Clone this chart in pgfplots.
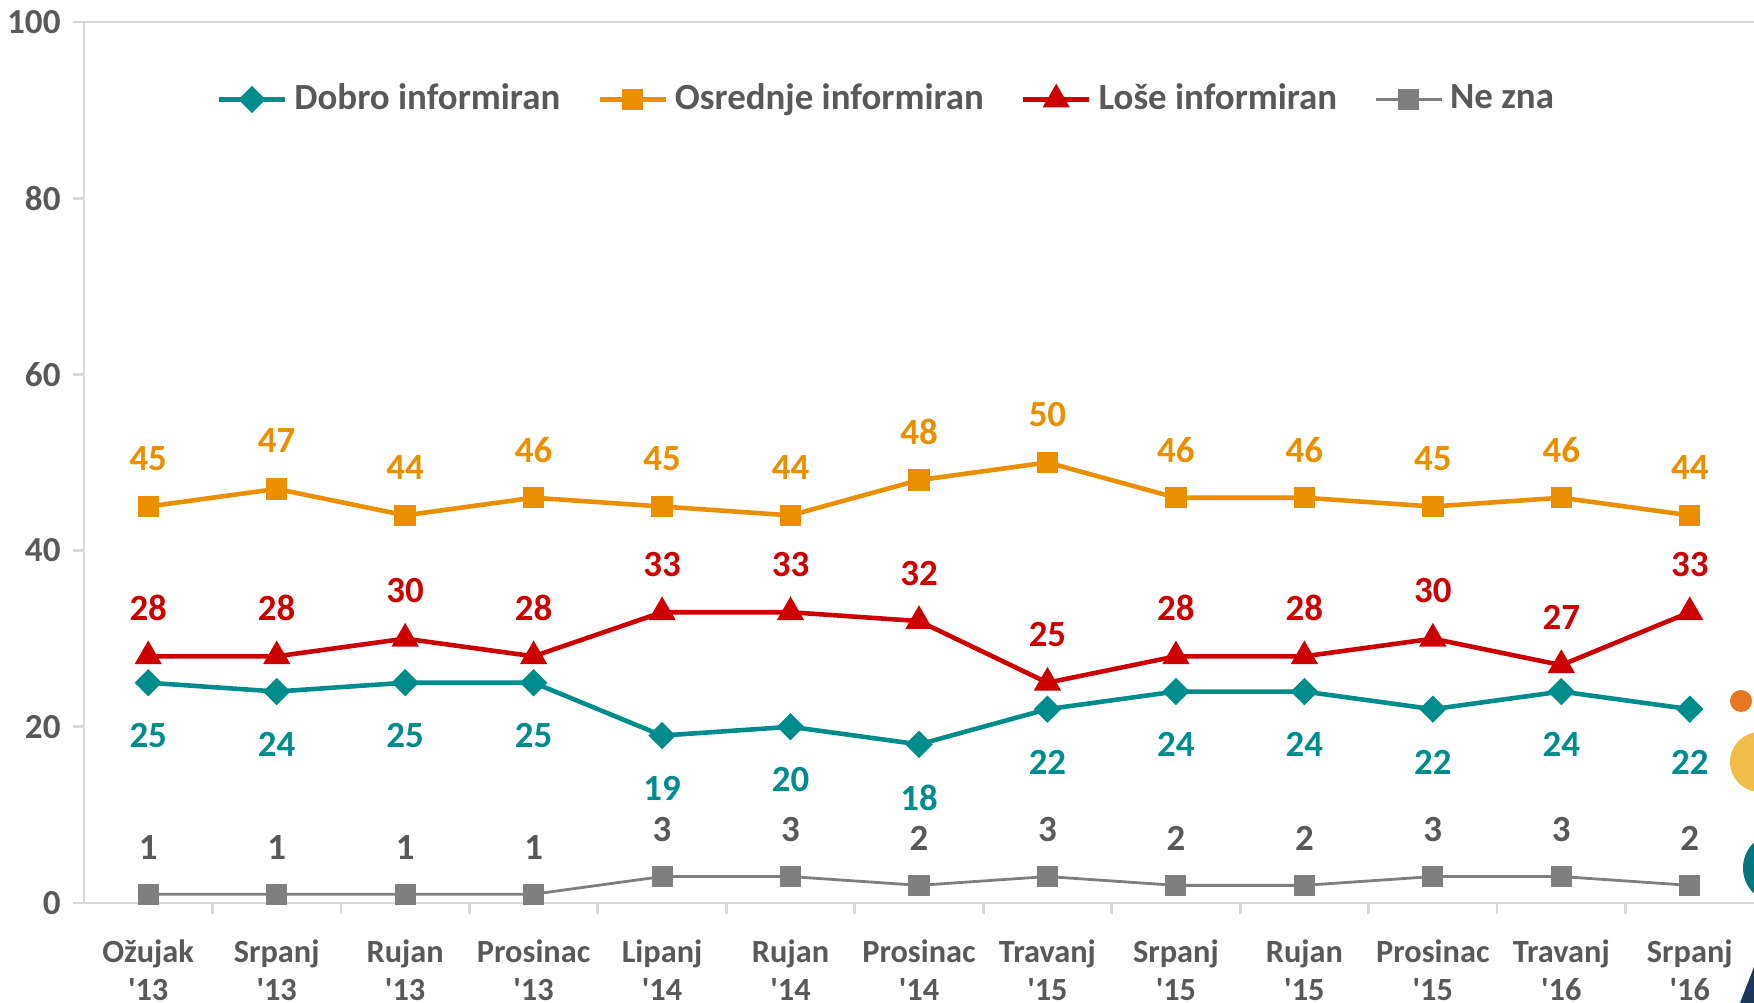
\documentclass[border=0pt]{standalone}
\usepackage{fontspec}
\setmainfont{Carlito}
\usepackage{pgfplots}
\pgfplotsset{compat=1.18}

\definecolor{dobro}{RGB}{0,140,140}
\definecolor{osred}{RGB}{233,143,0}
\definecolor{lose}{RGB}{204,0,0}
\definecolor{nezna}{RGB}{127,127,127}
\definecolor{txt}{RGB}{89,89,89}
\definecolor{axgray}{RGB}{217,217,217}
\definecolor{decoorange}{RGB}{232,119,34}
\definecolor{decoyellow}{RGB}{240,190,72}
\definecolor{decoteal}{RGB}{0,118,128}
\definecolor{deconavy}{RGB}{28,55,90}

\begin{document}
\begin{tikzpicture}
\path[use as bounding box] (-0.84cm,-1.00cm) rectangle (16.70cm,9.03cm);
\begin{axis}[
    at={(0,0)}, anchor=south west,
    width=16.70cm, height=8.81cm,
    scale only axis,
    xmin=-0.5, xmax=12.5,
    ymin=0, ymax=100,
    axis lines=left,
    axis line style={draw=axgray, line width=0.8pt, -},
    tick align=outside,
    major tick length=1.1mm,
    ytick={0,20,40,60,80,100},
    y tick style={draw=axgray, line width=0.8pt},
    y tick label style={font=\fontsize{10}{12}\selectfont\bfseries, text=txt},
    /pgf/number format/assume math mode=true,
    xtick={0,...,12},
    xticklabels={{Ožujak\\\textquotesingle13},{Srpanj\\\textquotesingle13},{Rujan\\\textquotesingle13},{Prosinac\\\textquotesingle13},{Lipanj\\\textquotesingle14},{Rujan\\\textquotesingle14},{Prosinac\\\textquotesingle14},{Travanj\\\textquotesingle15},{Srpanj\\\textquotesingle15},{Rujan\\\textquotesingle15},{Prosinac\\\textquotesingle15},{Travanj\\\textquotesingle16},{Srpanj\\\textquotesingle16}},
    x tick label style={align=center, font=\fontsize{9.2}{10.8}\selectfont\bfseries, text=txt, yshift=-1.3mm},
    x tick style={draw=none},
    extra x ticks={0.5,1.5,...,11.5},
    extra x tick labels={},
    extra x tick style={x tick style={draw=axgray, line width=0.8pt}},
    clip=false,
    legend columns=4,
    legend style={at={(0.482,0.912)}, anchor=center, draw=none, fill=none,
        font=\fontsize{10.5}{13}\selectfont\bfseries, text=txt,
        /tikz/every even column/.append style={column sep=3mm}},
    legend image code/.code={\draw[mark repeat=2,mark phase=2] plot coordinates {(0cm,0cm) (0.33cm,0cm) (0.66cm,0cm)};},
    nodes near coords,
    nodes near coords style={font=\fontsize{10.5}{12}\selectfont\bfseries, anchor=center},
]

\addplot[color=dobro, line width=1.3pt, mark=square*, mark size=2.1pt,
    mark options={rotate=45},
    every node near coord/.append style={text=dobro, yshift=-5.3mm}]
    coordinates {(0,25) (1,24) (2,25) (3,25) (4,19) (5,20) (6,18) (7,22) (8,24) (9,24) (10,22) (11,24) (12,22)};
\addlegendentry{Dobro informiran}

\addplot[color=osred, line width=1.3pt, mark=square*, mark size=2.4pt,
    every node near coord/.append style={text=osred, yshift=4.8mm}]
    coordinates {(0,45) (1,47) (2,44) (3,46) (4,45) (5,44) (6,48) (7,50) (8,46) (9,46) (10,45) (11,46) (12,44)};
\addlegendentry{Osrednje informiran}

\addplot[color=lose, line width=1.3pt, mark=triangle*, mark size=3.2pt,
    every node near coord/.append style={text=lose, yshift=4.8mm}]
    coordinates {(0,28) (1,28) (2,30) (3,28) (4,33) (5,33) (6,32) (7,25) (8,28) (9,28) (10,30) (11,27) (12,33)};
\addlegendentry{Loše informiran}

\addplot[color=nezna, line width=0.8pt, mark=square*, mark size=2.6pt,
    every node near coord/.append style={text=txt, yshift=4.7mm}]
    coordinates {(0,1) (1,1) (2,1) (3,1) (4,3) (5,3) (6,2) (7,3) (8,2) (9,2) (10,3) (11,3) (12,2)};
\addlegendentry{Ne zna}

\draw[axgray, line width=0.8pt] (rel axis cs:0,1) -- (rel axis cs:1,1);
\end{axis}

% decorative shapes at the right edge
\fill[decoorange] (16.57cm,2.02cm) circle (0.11cm);
\fill[decoyellow] (16.76cm,1.41cm) circle (0.30cm);
\fill[decoteal] (16.94cm,0.35cm) circle (0.35cm);
\fill[deconavy] (16.56cm,-1.00cm) -- (16.70cm,-0.64cm) -- (16.70cm,-1.00cm) -- cycle;
\end{tikzpicture}
\end{document}
